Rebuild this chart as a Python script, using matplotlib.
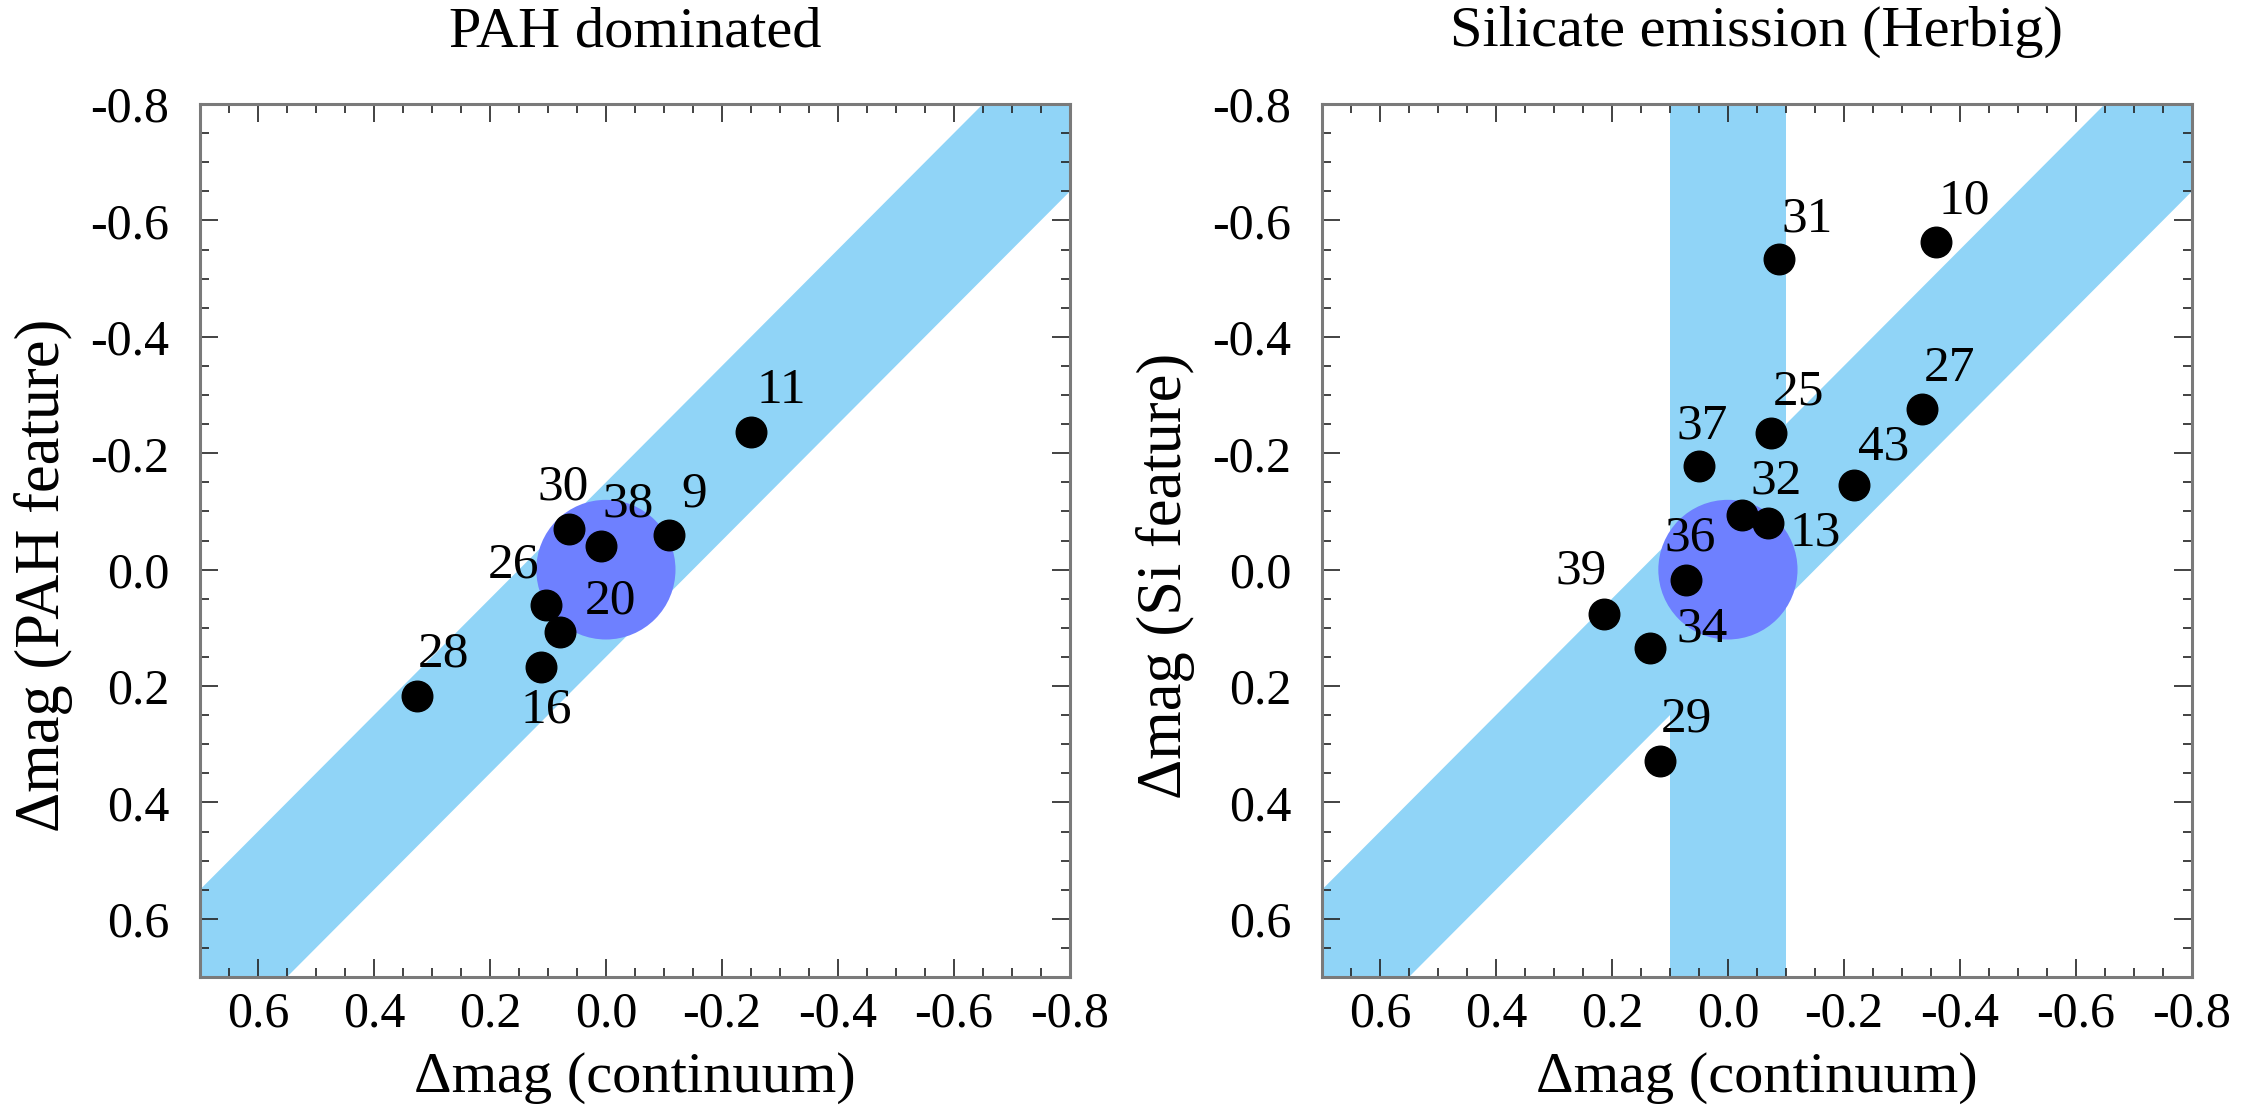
import numpy as np
import matplotlib
matplotlib.use("Agg")
import matplotlib.pyplot as plt
from matplotlib.patches import Circle
from matplotlib.ticker import MultipleLocator, FormatStrFormatter

SERIF = ["Liberation Serif", "DejaVu Serif"]
plt.rcParams["font.family"] = SERIF
plt.rcParams["axes.unicode_minus"] = False

# ---- PAH dominated sources ----
pah_ids = ["11", "30", "38", "9", "26", "20", "16", "28"]
pah_cont = [-0.250, 0.064, 0.009, -0.109, 0.104, 0.079, 0.112, 0.325]
pah_feat = [-0.236, -0.070, -0.041, -0.060, 0.061, 0.107, 0.168, 0.217]

# ---- Silicate emission (Herbig) sources ----
si_ids = ["31", "10", "27", "25", "37", "43", "32", "13", "36", "39", "34", "29"]
si_cont = [-0.088, -0.358, -0.335, -0.074, 0.050, -0.218, -0.025, -0.069,
           0.073, 0.213, 0.134, 0.117]
si_feat = [-0.533, -0.563, -0.276, -0.235, -0.178, -0.146, -0.094, -0.080,
           0.018, 0.077, 0.134, 0.328]

# label offsets (points) relative to each dot
pah_offsets = {"11": (22, 30), "30": (-4, 30), "38": (20, 30), "9": (18, 29),
               "26": (-23, 29), "20": (36, 22), "16": (4, -31), "28": (19, 30)}
si_offsets = {"31": (20, 29), "10": (21, 29), "27": (20, 29), "25": (20, 29),
              "37": (2, 29), "43": (21, 27), "32": (24, 24), "13": (34, -7),
              "36": (3, 30), "39": (-17, 31), "34": (37, 13), "29": (19, 30)}

band_halfwidth = 0.15   # |feature - continuum| band
circle_radius = 0.12
vband_halfwidth = 0.1   # constant-continuum band (silicate panel)

band_color = "#90D4F7"
circle_color = "#6E80FF"

fig = plt.figure(figsize=(22.49, 11.05), dpi=100)
ax1 = fig.add_axes([0.0889, 0.1158, 0.3868, 0.790])
ax2 = fig.add_axes([0.5878, 0.1158, 0.3868, 0.790])


def setup_panel(ax, title, ylabel, ids, xs, ys, offsets, vband=False):
    xx = np.linspace(-1.2, 1.2, 10)
    ax.fill_between(xx, xx - band_halfwidth, xx + band_halfwidth,
                    color=band_color, lw=0, zorder=1)
    if vband:
        ax.axvspan(-vband_halfwidth, vband_halfwidth, color=band_color, lw=0, zorder=1)
    ax.add_patch(Circle((0, 0), circle_radius, color=circle_color, lw=0, zorder=2))

    ax.plot(xs, ys, "o", color="black", markersize=22, zorder=3)
    for name, x, y in zip(ids, xs, ys):
        ax.annotate(name, (x, y), xytext=offsets[name], textcoords="offset points",
                    ha="center", va="center", fontsize=37, zorder=4)

    ax.set_xlim(0.7, -0.8)
    ax.set_ylim(0.7, -0.8)

    ax.xaxis.set_major_locator(MultipleLocator(0.2))
    ax.yaxis.set_major_locator(MultipleLocator(0.2))
    ax.xaxis.set_minor_locator(MultipleLocator(0.05))
    ax.yaxis.set_minor_locator(MultipleLocator(0.05))
    ax.xaxis.set_major_formatter(FormatStrFormatter("%.1f"))
    ax.yaxis.set_major_formatter(FormatStrFormatter("%.1f"))

    ax.tick_params(which="both", direction="in", top=True, right=True,
                   color="#222222", width=1.2)
    ax.tick_params(which="major", length=13, labelsize=36)
    ax.tick_params(which="minor", length=6.5)
    ax.tick_params(axis="x", which="major", pad=10)
    ax.tick_params(axis="y", which="major", pad=22)

    for sp in ax.spines.values():
        sp.set_color("#7a7a7a")
        sp.set_linewidth(2.2)
        sp.set_zorder(5)

    ax.set_xlabel("Δmag (continuum)", fontsize=42)
    ax.set_ylabel(ylabel, fontsize=45)
    ax.xaxis.set_label_coords(0.5, -0.116)
    ax.xaxis.label.set_va("center")
    ax.yaxis.set_label_coords(-0.18, 0.46)
    ax.yaxis.label.set_va("center")

    ax.set_title(title, fontsize=42, y=1.0825, va="center", pad=0)


setup_panel(ax1, "PAH dominated", "Δmag (PAH feature)",
            pah_ids, pah_cont, pah_feat, pah_offsets)
setup_panel(ax2, "Silicate emission (Herbig)", "Δmag (Si feature)",
            si_ids, si_cont, si_feat, si_offsets, vband=True)

fig.savefig("out.png", dpi=100)
